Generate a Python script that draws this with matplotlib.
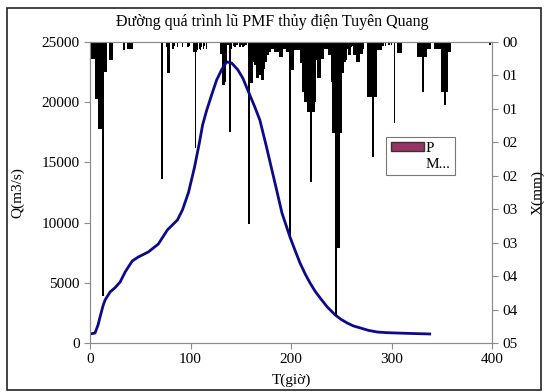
import matplotlib.pyplot as plt
from matplotlib.patches import Patch, Rectangle
from matplotlib.lines import Line2D

# flood hydrograph Q (m3/s) vs time (hours)
t_hour = [0, 5, 8, 10, 13, 15, 20, 25, 30, 35, 42, 48, 58, 68, 77, 87, 92, 98, 104,
          109, 112, 116, 121, 126, 131, 136, 141, 147, 152, 159, 164, 169, 175, 181,
          186, 191, 195, 199, 204, 209, 214, 219, 224, 229, 236, 244, 250, 256, 262,
          269, 277, 286, 295, 305, 320, 338]
q_flow = [750, 830, 1500, 2160, 3100, 3570, 4240, 4600, 5070, 5900, 6810, 7140, 7560,
          8220, 9390, 10220, 11050, 12500, 14600, 16700, 18100, 19300, 20600, 21840,
          22700, 23350, 23250, 22700, 22010, 20600, 19600, 18520, 16500, 14370, 12600,
          10800, 9800, 8800, 7700, 6640, 5750, 4980, 4300, 3740, 3000, 2330, 1950, 1660,
          1420, 1250, 1050, 910, 860, 830, 790, 750]

# hourly rainfall bars (right axis, inverted)
rain_hour = [2, 3, 4, 5, 6, 7, 8, 9, 10, 11, 12, 13, 14, 15, 16, 20, 21, 22, 34,
             38, 39, 40, 41, 42, 72, 77, 78, 79, 82, 83, 84, 87, 92, 97, 98, 99,
             103, 104, 105, 106, 107, 109, 110, 111, 113, 114, 116, 130, 131, 132, 133,
             134, 135, 137, 139, 140, 143, 144, 146, 149, 150, 152, 153, 155, 158,
             159, 160, 161, 162, 163, 164, 165, 166, 167, 168, 169, 170, 171, 172, 173,
             174, 175, 176, 177, 178, 179, 180, 181, 182, 183, 184, 185, 186, 187,
             189, 190, 191, 192, 193, 194, 195, 196, 197, 198, 199, 200, 201, 202,
             203, 204, 205, 206, 207, 208, 209, 210, 211, 212, 213, 214, 215, 216,
             217, 218, 219, 220, 221, 222, 223, 224, 225, 226, 227, 228, 229, 230,
             231, 232, 233, 234, 235, 236, 237, 238, 239, 240, 241, 242, 243, 244,
             245, 246, 247, 248, 249, 250, 251, 252, 253, 254, 255, 256, 257, 258,
             259, 260, 261, 263, 264, 265, 266, 267, 268, 269, 270, 271, 272,
             277, 278, 279, 280, 281, 282, 283, 284, 285, 286, 287, 288, 289, 290,
             291, 292, 294, 297, 298, 300, 303, 306, 307, 308, 309, 310,
             326, 327, 328, 329, 330, 331, 332, 333, 334, 336, 337, 338,
             343, 344, 345, 346, 347, 348, 349, 350, 351, 352, 353, 354, 355,
             356, 357, 358, 398]
rain_mm = [0.25, 0.25, 0.25, 0.25, 0.85, 0.85, 0.85, 1.3, 1.3, 1.3, 1.3, 3.8, 0.45, 0.45, 0.45,
           0.27, 0.27, 0.27, 0.12,
           0.1, 0.1, 0.1, 0.1, 0.1, 2.05, 0.07, 0.47, 0.47, 0.1, 0.1, 0.06, 0.08, 0.08,
           0.08, 0.08, 0.06,
           0.15, 0.15, 1.58, 0.15, 0.12, 0.1, 0.12, 0.08, 0.1, 0.06, 0.1, 0.18, 0.18, 0.65, 0.65,
           0.6, 0.3, 0.05, 1.35, 0.1, 0.06, 0.08, 0.05, 0.08, 0.05, 0.08, 0.06, 0.05, 2.72,
           0.62, 0.62, 0.62, 0.3, 0.3, 0.35, 0.35, 0.54, 0.54, 0.5, 0.5, 0.36, 0.57, 0.57, 0.4,
           0.3, 0.3, 0.2, 0.2, 0.15, 0.15, 0.1, 0.1, 0.08, 0.1, 0.15, 0.15, 0.1, 0.15,
           0.22, 0.22, 0.22, 0.1, 0.1, 0.1, 0.05, 0.15, 0.15, 0.1, 2.9, 0.2, 0.42, 0.42,
           0.12, 0.12, 0.1, 0.12, 0.08, 0.12, 0.1, 0.31, 0.31, 0.75, 0.75, 0.9, 0.9, 0.9,
           1.05, 1.05, 1.05, 2.1, 1.05, 1.05, 1.05, 0.9, 0.27, 0.27, 0.54, 0.54, 0.54, 0.25,
           0.25, 0.25, 0.1, 0.1, 0.05, 0.1, 0.1, 0.2, 0.2, 0.2, 0.6, 1.36, 1.36, 1.36,
           4.1, 3.08, 3.08, 3.08, 1.36, 1.36, 0.47, 0.47, 0.3, 0.3, 0.27, 0.1, 0.1, 0.2,
           0.2, 0.08, 0.06, 0.2, 0.2, 0.2, 0.3, 0.3, 0.3, 0.18, 0.18, 0.18, 0.1,
           0.82, 0.82, 0.82, 0.82, 1.72, 1.72, 0.82, 0.82, 0.82, 0.12, 0.12, 0.12, 0.12, 0.12,
           0.06, 0.06, 0.06, 0.05, 0.05, 0.05, 1.21, 0.17, 0.17, 0.17, 0.17, 0.17,
           0.22, 0.22, 0.22, 0.22, 0.22, 0.75, 0.22, 0.22, 0.22, 0.1, 0.1, 0.1,
           0.1, 0.1, 0.1, 0.1, 0.1, 0.1, 0.1, 0.75, 0.75, 0.75, 0.94, 0.75, 0.75,
           0.15, 0.15, 0.15, 0.05]

right_ticks = [0, 0.5, 1, 1.5, 2, 2.5, 3, 3.5, 4, 4.5]
right_labels = ["00", "01", "01", "02", "02", "03", "03", "04", "04", "05"]

plt.rcParams['font.family'] = ['Liberation Serif', 'DejaVu Serif']
fs = 11
gray = '#8c8c8c'

fig = plt.figure(figsize=(5.44, 3.92), dpi=100)
ax = fig.add_axes([90/544, 1-343/392, (492-90)/544, (343-42)/392])
ax2 = ax.twinx()

ax2.bar(rain_hour, rain_mm, width=1.8, color='black', linewidth=0)
ax2.set_ylim(4.5, 0)
ax2.set_yticks(right_ticks)
ax2.set_yticklabels(right_labels, fontsize=fs)
ax2.set_ylabel("X(mm)", fontsize=fs)
ax2.yaxis.set_label_coords(1.097, 0.5)

ax.plot(t_hour, q_flow, color='#0a0a8a', linewidth=2)
ax.set_xlim(0, 400)
ax.set_ylim(0, 25000)
ax.set_xticks([0, 100, 200, 300, 400])
ax.set_yticks([0, 5000, 10000, 15000, 20000, 25000])
ax.tick_params(labelsize=fs)
ax.set_xlabel("T(giờ)", fontsize=fs)
ax.xaxis.set_label_coords(0.5, -0.10)
ax.set_ylabel("Q(m3/s)", fontsize=fs)
ax.yaxis.set_label_coords(-0.163, 0.5)
ax.set_zorder(ax2.get_zorder() + 1)
ax.patch.set_visible(False)

for a in (ax, ax2):
    for s in a.spines.values():
        s.set_color(gray)
    a.tick_params(color=gray, length=4)

fig.text(0.5, 1-22/392, "Đường quá trình lũ PMF thủy điện Tuyên Quang",
         ha='center', va='center', fontsize=11.5)

leg = ax.legend([Patch(facecolor='#993366', edgecolor='#333333'),
                 Line2D([], [], linestyle='none')], ["P", "M..."],
                loc='upper left', bbox_to_anchor=(386/544, 1-137/392),
                bbox_transform=fig.transFigure, fancybox=False, fontsize=fs,
                handlelength=2.2, handleheight=0.5, borderpad=0.3,
                labelspacing=0.2, handletextpad=0.1, borderaxespad=0)
leg.get_frame().set_edgecolor('#555555')
leg.get_frame().set_linewidth(0.8)

fig.patches.append(Rectangle((7/544, 2/392), 534/544, 382/392, transform=fig.transFigure,
                             fill=False, edgecolor='#222222', linewidth=1.2))

fig.savefig("out.png", dpi=100)
